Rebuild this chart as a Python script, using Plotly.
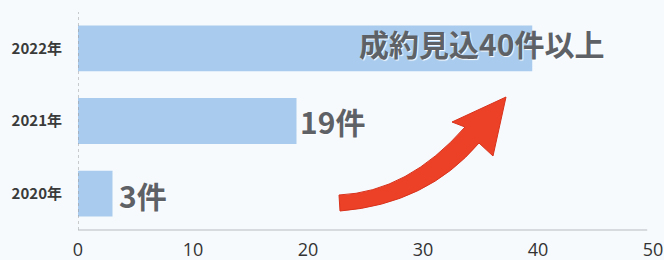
import plotly.graph_objects as go

# ---- data ----
years = ["2020年", "2021年", "2022年"]
cases = [3, 19, 39.5]
value_labels = ["3件", "19件", "成約見込40件以上"]
x_ticks = [0, 10, 20, 30, 40, 50]

W, H = 664, 260
L, R, T, B = 78, 11, 12, 30
X0, X1 = 0, 50
Y0, Y1 = -0.5, 2.5

ypos = list(range(len(years)))

fig = go.Figure()
fig.add_trace(go.Bar(
    x=cases, y=ypos, orientation="h",
    marker=dict(color="#a8cbee", line=dict(width=0)),
    width=0.63, hoverinfo="skip",
))

FONT = "Noto Sans CJK JP"

# value labels: (x shift in data units, y shift in category units)
label_shift = [(0.35, -0.02), (0.15, 0.0), (-15.2, 0.08)]
for i, (v, lab) in enumerate(zip(cases, value_labels)):
    dx, dy = label_shift[i]
    fig.add_annotation(
        x=v + dx, y=ypos[i] + dy,
        text=lab, showarrow=False, xanchor="left", yanchor="middle",
        font=dict(family=FONT, size=30, color="#5e6267", weight="bold",
                  shadow="1px 1px 1px #ffffff"),
    )

# pixel -> data helper for the decorative arrow
pw = W - L - R
ph = H - T - B
def px(xp, yp):
    xd = X0 + (xp - L) / pw * (X1 - X0)
    yd = Y1 - (yp - T) / ph * (Y1 - Y0)
    return f"{xd:.3f},{yd:.4f}"

arrow_path = (
    "M " + px(340, 211) + " L " + px(339, 195)
    + " Q " + px(408, 192) + " " + px(465, 127)
    + " L " + px(452, 122) + " L " + px(506, 97) + " L " + px(493, 156)
    + " L " + px(479, 143)
    + " Q " + px(427, 204) + " " + px(340, 211) + " Z"
)
fig.add_shape(type="path", path=arrow_path, xref="x", yref="y",
              fillcolor="#ec4127", line=dict(color="#d8321c", width=1), layer="above")

# dotted y axis line
fig.add_shape(type="line", x0=0, x1=0, y0=0, y1=1, xref="x", yref="paper",
              line=dict(color="#9a9a9a", width=1, dash="dot"), layer="above")
# bottom axis line (stops just short of 50)
fig.add_shape(type="line", x0=0, x1=49.5, y0=0, y1=0, xref="x", yref="paper",
              line=dict(color="#b8bcc0", width=1), layer="above")

fig.update_layout(
    width=W, height=H,
    margin=dict(l=L, r=R, t=T, b=B, pad=0, autoexpand=False),
    paper_bgcolor="#f6fafd", plot_bgcolor="rgba(0,0,0,0)",
    showlegend=False,
    xaxis=dict(range=[X0, X1], tickvals=x_ticks, showgrid=False, zeroline=False,
               showline=False, automargin=False,
               ticks="", ticklabelstandoff=7,
               tickfont=dict(family="Open Sans", size=18, color="#333333")),
    yaxis=dict(range=[Y0, Y1], tickvals=ypos, ticktext=years, showgrid=False,
               zeroline=False, showline=False, ticks="", ticklabelstandoff=15,
               automargin=False,
               tickfont=dict(family=FONT, size=15, color="#3a3a3a", weight="bold")),
)

fig.write_html("out.html", config={"displayModeBar": False, "staticPlot": True},
               post_script="document.body.style.margin='0';document.body.style.overflow='hidden';")
